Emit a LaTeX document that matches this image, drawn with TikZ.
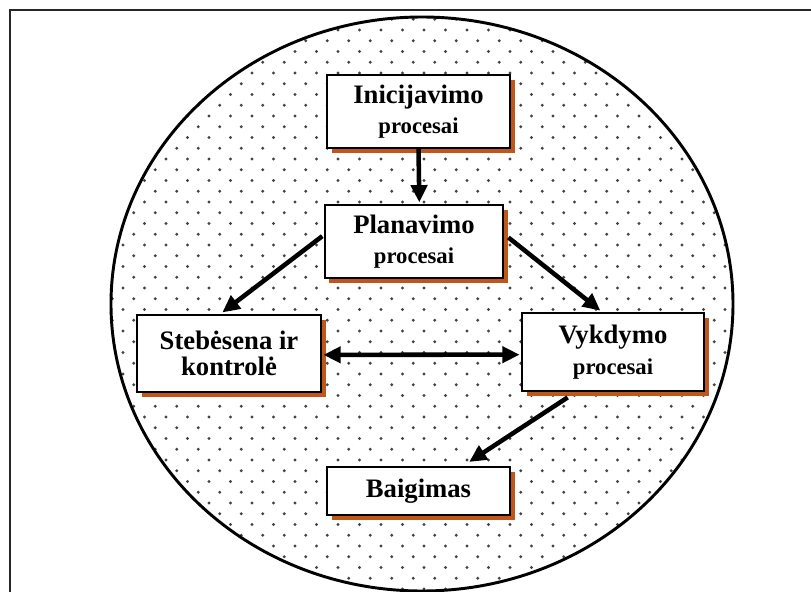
\documentclass[tikz,border=0pt]{standalone}
\usepackage{fontspec}
\setmainfont{Liberation Serif}
\usetikzlibrary{arrows.meta,shadows}
\definecolor{shadoworange}{HTML}{C0561A}
\definecolor{dotgray}{HTML}{444444}
\tikzset{
  procbox/.style={draw=black, line width=1.6pt, fill=white, rectangle, inner sep=0pt,
    align=center, font=\bfseries\fontsize{20}{20}\selectfont,
    drop shadow={shadow xshift=3.6pt, shadow yshift=-3.6pt, fill=shadoworange, opacity=1}},
  flow/.style={line width=3.4pt, -{Triangle[length=13pt,width=12pt]}},
  biflow/.style={line width=3.4pt, {Triangle[length=13pt,width=12pt]}-{Triangle[length=13pt,width=12pt]}},
}
\newcommand{\smallline}[1]{{\fontsize{17}{17}\selectfont #1}}
\begin{document}
\begin{tikzpicture}[x=0.75pt,y=-0.75pt]
\useasboundingbox (0,0) rectangle (811,592);
% outer frame
\draw[line width=1.6pt, black!85] (10,592) -- (10,10) -- (811,10);
% ellipse with dotted fill
\fill[white] (422,304) ellipse [x radius=311, y radius=287];
\begin{scope}
  \clip (422,304) ellipse [x radius=311, y radius=287];
  \foreach \k in {-22,...,32}{
    \pgfmathsetmacro\yy{245+10.75*\k}
    \pgfmathsetmacro\xo{123+10.75*abs(mod(\k,2))-129}
    \foreach \m in {0,...,38}{
      \fill[dotgray] ({\xo+21.5*\m},\yy) circle [radius=1.55];
    }
  }
\end{scope}
\draw[line width=2.2pt] (422,304) ellipse [x radius=311, y radius=287];
% boxes
\node[procbox, minimum width=137pt, minimum height=55pt] (ini) at (418.5,111.5)
  {Inicijavimo\\[3pt]\smallline{procesai}};
\node[procbox, minimum width=134pt, minimum height=55pt] (plan) at (414,241.5)
  {Planavimo\\[3pt]\smallline{procesai}};
\node[procbox, minimum width=138pt, minimum height=58pt] (steb) at (229,353.5)
  {Stebėsena ir\\[0pt]kontrolė};
\node[procbox, minimum width=136.5pt, minimum height=58.5pt] (vyk) at (613,352)
  {Vykdymo\\[3pt]\smallline{procesai}};
\node[procbox, minimum width=137pt, minimum height=36pt] (baig) at (418.5,491)
  {Baigimas};
% connectors
\draw[flow] (ini.south) -- ([xshift=4pt,yshift=1pt]plan.north);
\draw[flow] ([yshift=4pt,xshift=-1pt]plan.west) -- ([xshift=-5pt,yshift=1pt]steb.north);
\draw[flow] ([yshift=3pt,xshift=3pt]plan.east) -- ([xshift=-9.5pt,yshift=1pt]vyk.north);
\draw[biflow] ([xshift=1pt,yshift=-1pt]steb.east) -- ([xshift=-1pt,yshift=-2pt]vyk.west);
\draw[flow] ([xshift=-34pt,yshift=-4pt]vyk.south) -- ([xshift=38pt,yshift=3pt]baig.north);
\end{tikzpicture}
\end{document}
